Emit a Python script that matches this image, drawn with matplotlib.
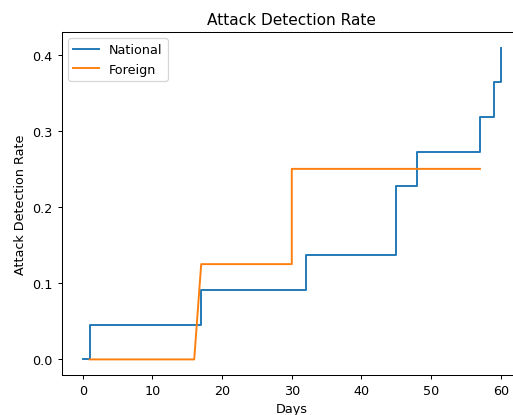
import matplotlib
matplotlib.use("Agg")
import matplotlib.pyplot as plt

national_days = [0, 1, 1, 17, 17, 32, 32, 45, 45, 48, 48, 57, 57, 59, 59, 60, 60]
national_rate = [0, 0, 1/22, 1/22, 2/22, 2/22, 3/22, 3/22, 5/22, 5/22, 6/22, 6/22,
                 7/22, 7/22, 8/22, 8/22, 9/22]
foreign_days = [1, 16, 17, 30, 30, 57]
foreign_rate = [0, 0, 0.125, 0.125, 0.25, 0.25]

W, H = 513, 416
DPI = 92
fig = plt.figure(figsize=(W / DPI, H / DPI), dpi=DPI)
left, right, top, bottom = 61.8, 521.8, 33, 376
ax = fig.add_axes([left / W, 1 - bottom / H, (right - left) / W, (bottom - top) / H])
ax.plot(national_days, national_rate, label="National")
ax.plot(foreign_days, foreign_rate, label="Foreign")
ax.set_title("Attack Detection Rate")
ax.set_xlabel("Days")
ax.set_ylabel("Attack Detection Rate")
ax.set_xticks([0, 10, 20, 30, 40, 50, 60])
ax.set_yticks([0.0, 0.1, 0.2, 0.3, 0.4])
ax.legend(loc="upper left")
fig.savefig("out.png", dpi=DPI)
